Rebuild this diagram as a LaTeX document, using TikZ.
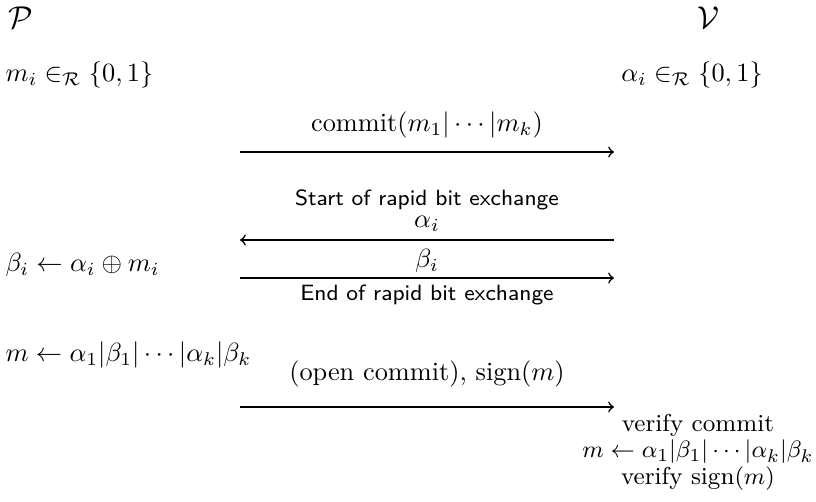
\documentclass[tikz,border=0pt]{standalone}
\usepackage{amsmath}
\usetikzlibrary{positioning}

\tikzset{
  msg/.style={->, line width=0.6pt},
  party/.style={inner sep=0pt},
  step label/.style={font=\sffamily\fontsize{8.4}{10}\selectfont, inner sep=1pt},
  check/.style={party, font=\fontsize{9.3}{11}\selectfont},
}

\begin{document}
\begin{tikzpicture}[x=0.38pt, y=-0.38pt]

\def\xp{240}
\def\xv{614}

\useasboundingbox (0,0) rectangle (816,502);

% the two parties
\node[party, anchor=west] (prover) at (8,18) {\large$\mathcal{P}$};
\node[party] (verifier) at (708,18) {\large$\mathcal{V}$};

\node[party, anchor=west] (mi) at (5,75) {$m_i \in_{\mathcal{R}} \{0,1\}$};
\node[party] (ai) at (692,75) {$\alpha_i \in_{\mathcal{R}} \{0,1\}$};

% commitment
\coordinate (p1) at (\xp,152);
\coordinate (v1) at (\xv,152);
\draw[msg] (p1) -- node[above=1.5pt] (commit) {$\text{commit}(m_1|\cdots|m_k)$} (v1);

% rapid bit exchange
\coordinate (p2) at (\xp,240);
\coordinate (v2) at (\xv,240);
\draw[msg] (v2) -- node[above=-0.5pt] (alpha) {$\alpha_i$} (p2);
\node[step label, above=-2.5pt of alpha] (start) {Start of rapid bit exchange};

\node[party, anchor=west] (beta) at (5,265) {$\beta_i \leftarrow \alpha_i \oplus m_i$};
\coordinate (p3) at (\xp,278);
\coordinate (v3) at (\xv,278);
\draw[msg] (p3) -- node[above=-1.5pt] (betai) {$\beta_i$} (v3);
\node[step label, below=1.5pt of betai.south |- p3] (end) {End of rapid bit exchange};

\node[party, anchor=west] (mp) at (5,355) {$m \leftarrow \alpha_1|\beta_1|\cdots|\alpha_k|\beta_k$};

% opening and signature
\coordinate (p4) at (\xp,407);
\coordinate (v4) at (\xv,407);
\draw[msg] (p4) -- node[above=4pt] (open) {(open commit), $\text{sign}(m)$} (v4);

\node[check] (vcommit) at (698,425) {verify commit};
\node[check] (vm) at (698,452) {$m \leftarrow \alpha_1|\beta_1|\cdots|\alpha_k|\beta_k$};
\node[check] (vsign) at (698,479) {verify $\text{sign}(m)$};

\end{tikzpicture}
\end{document}
